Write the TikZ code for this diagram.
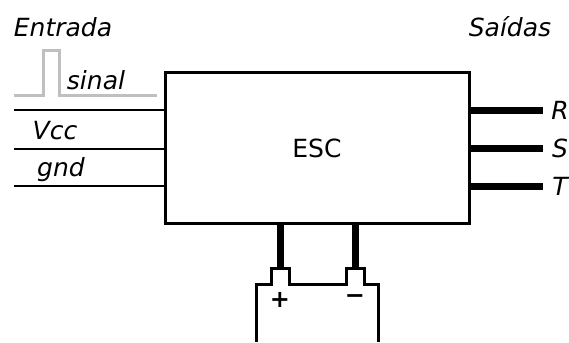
\documentclass[tikz,border=0pt]{standalone}
\usepackage{fontspec}
\setmainfont{DejaVu Sans}
\usetikzlibrary{positioning}
\begin{document}
\begin{tikzpicture}[x=1pt,y=-1pt]
        \tikzstyle{lbl}=[inner sep=0pt,font=\fontsize{25}{28}\selectfont\itshape]
        \tikzstyle{block}=[draw=black,line width=3pt,minimum width=304pt,minimum height=150pt,inner sep=0pt,font=\fontsize{25}{28}\selectfont]
        \tikzstyle{pole}=[inner sep=0pt,font=\fontsize{24}{26}\selectfont\bfseries]
        \useasboundingbox (0,0) rectangle (569,342);

        \node[block] (esc) at (317,148) {ESC};
        \node[lbl] (entrada) at (63,27) {Entrada};
        \node[lbl] (saidas) at (510,27) {Saídas};

        % sinal de entrada
        \draw[black!25,line width=3pt] (14,96) -- (43,96) -- (43,51) -- (59,51) -- (59,96) -- (157,96);
        \node[lbl] (sinal) at (96,80) {sinal};

        \foreach \num/\y in {1/110, 2/149, 3/186}
            \coordinate (in-\num) at (14,\y);
        \foreach \num in {1,2,3}
            \draw[line width=1.6pt] (in-\num) -- (in-\num -| esc.west);
        \node[lbl] (vcc) at (55,131) {Vcc};
        \node[lbl] (gnd) at (61,170) {gnd};

        % saidas
        \foreach \name/\y in {R/110, S/148, T/186}{
            \node[lbl] (out-\name) at (560,\y) {\name};
            \coordinate (end-\name) at (543,\y);
            \draw[line width=7pt] (end-\name -| esc.east) -- (end-\name);
        }

        % bateria
        \coordinate (bat-p) at (280,268);
        \coordinate (bat-n) at (355,268);
        \draw[line width=7pt] (bat-p |- esc.south) -- (bat-p);
        \draw[line width=7pt] (bat-n |- esc.south) -- (bat-n);
        \draw[line width=3pt] (256,342) -- (256,284) -- (271,284) -- (271,268) -- (289,268) -- (289,284)
            -- (346,284) -- (346,268) -- (364,268) -- (364,284) -- (378,284) -- (378,342);
        \node[pole] (plus) at (280,300) {+};
        \node[pole] (minus) at (355,299) {−};
\end{tikzpicture}
\end{document}
